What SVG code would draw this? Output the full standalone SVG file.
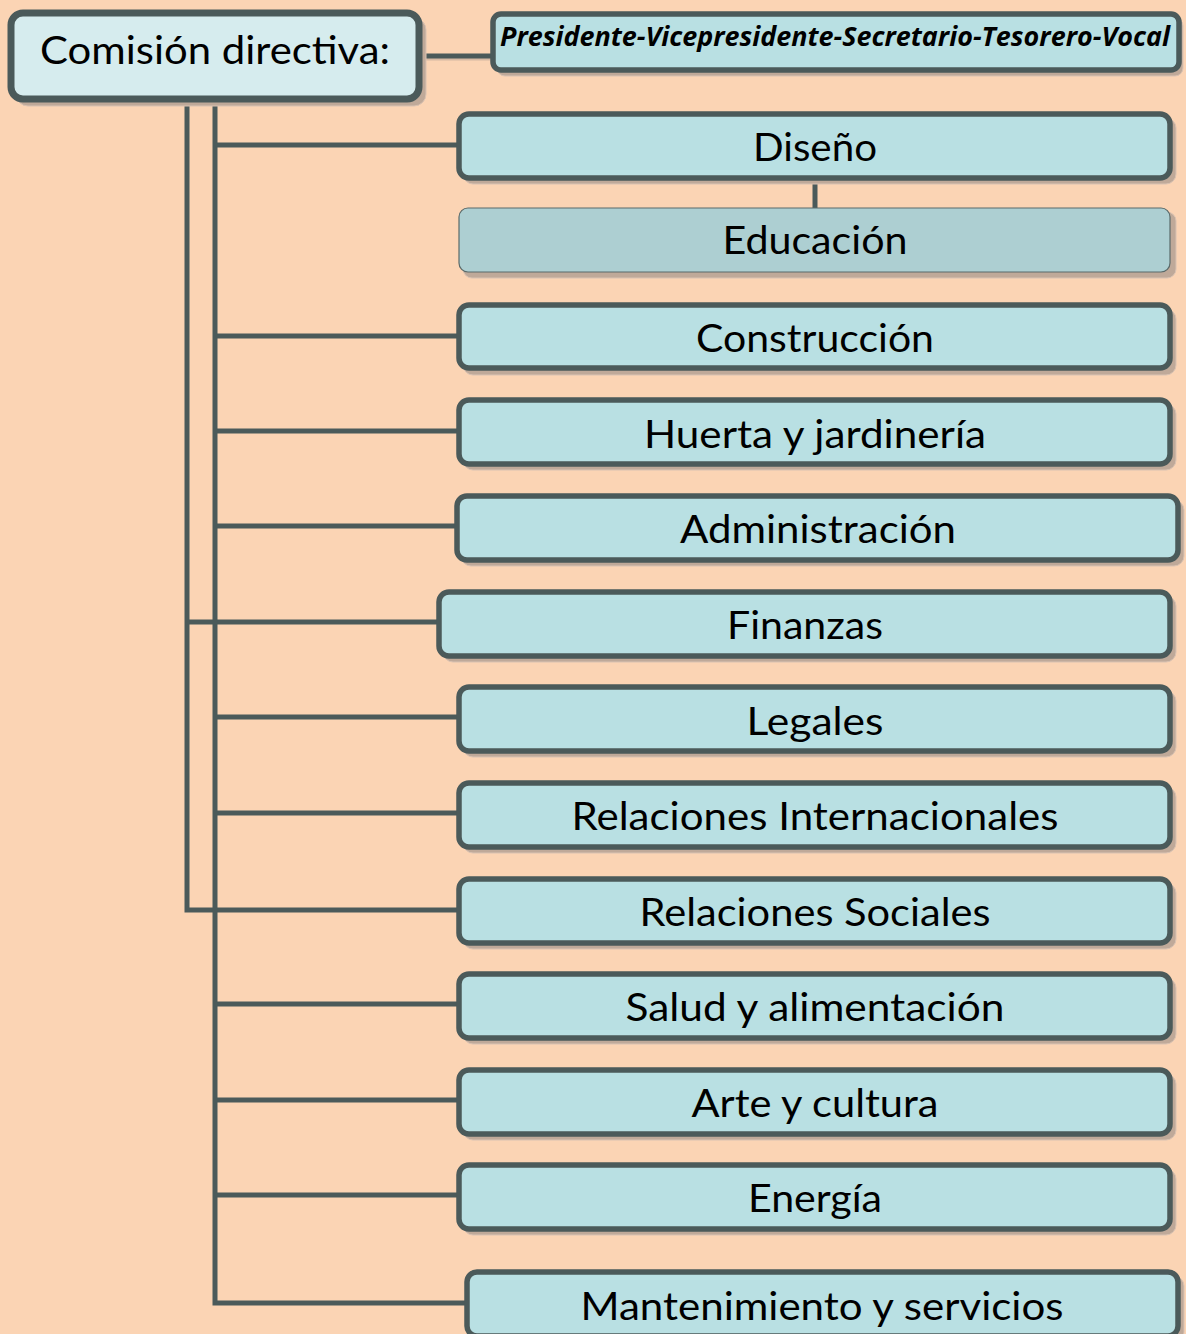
<svg xmlns="http://www.w3.org/2000/svg" width="1186" height="1334" viewBox="0 0 1186 1334">
<style>
.bg{fill:#FBD4B4}
.sh{fill:#BFA999;stroke:#D9C2B2;stroke-width:1}
.box{fill:#B9E0E3;stroke:#4B5A5A;stroke-width:5.5}
.top{fill:#D6ECEE;stroke:#4B5A5A;stroke-width:7}
.edu{fill:#ADCFD2;stroke:#5A6A6A;stroke-width:1.2}
.t{font-family:Lato,"Open Sans",sans-serif;font-size:39px;fill:#000;text-anchor:middle}
.ti{font-family:"Open Sans",Lato,sans-serif;font-size:26px;font-weight:bold;font-style:italic;fill:#000;text-anchor:middle}
.c{stroke:#4B5A5A;stroke-width:5;fill:none}
.cs{stroke:#BFA999;stroke-width:5;fill:none}
</style>
<rect class="bg" x="0" y="0" width="1186" height="1334"/>
<g id="connectors">
  <g transform="translate(2,2)" opacity="0.6">
    <path class="cs" d="M420 56H492"/>
  </g>
  <path class="c" d="M420 56H492"/>
  <path class="c" d="M815 178V208"/>
  <path class="c" d="M187 100V910H458"/>
  <path class="c" d="M187 622H438"/>
  <path class="c" d="M215 100V1303H466"/>
  <path class="c" d="M215 145H458"/>
  <path class="c" d="M215 336H458"/>
  <path class="c" d="M215 431H458"/>
  <path class="c" d="M215 526H456"/>
  <path class="c" d="M215 717H458"/>
  <path class="c" d="M215 813H458"/>
  <path class="c" d="M215 1004H458"/>
  <path class="c" d="M215 1100H458"/>
  <path class="c" d="M215 1195H458"/>
</g>
<g id="n-comision">
  <rect class="sh" x="16" y="18" width="410" height="88" rx="12"/>
  <rect class="top" x="11" y="13" width="408" height="86" rx="12"/>
  <text class="t" x="215" y="64" textLength="350" lengthAdjust="spacingAndGlyphs">Comisión directiva:</text>
</g>
<g id="n-presidente">
  <rect class="sh" x="497" y="18" width="686" height="58" rx="8"/>
  <rect class="box" x="493" y="14" width="686" height="56" rx="8"/>
  <text class="ti" x="835" y="46" textLength="670" lengthAdjust="spacingAndGlyphs">Presidente-Vicepresidente-Secretario-Tesorero-Vocal</text>
</g>
<g id="n-diseno">
  <rect class="sh" x="463" y="118" width="713" height="66" rx="10"/>
  <rect class="box" x="459" y="114" width="711" height="64" rx="10"/>
  <text class="t" x="815" y="161" textLength="124" lengthAdjust="spacingAndGlyphs">Diseño</text>
</g>
<g id="n-educacion">
  <rect class="sh" x="463" y="212" width="713" height="66" rx="9"/>
  <rect class="edu" x="459" y="208" width="711" height="64" rx="9"/>
  <text class="t" x="815" y="254" textLength="185" lengthAdjust="spacingAndGlyphs">Educación</text>
</g>
<g id="n-construccion">
  <rect class="sh" x="463" y="309" width="713" height="66" rx="10"/>
  <rect class="box" x="459" y="305" width="711" height="63" rx="10"/>
  <text class="t" x="815" y="352" textLength="238" lengthAdjust="spacingAndGlyphs">Construcción</text>
</g>
<g id="n-huerta">
  <rect class="sh" x="463" y="404" width="713" height="66" rx="10"/>
  <rect class="box" x="459" y="400" width="711" height="64" rx="10"/>
  <text class="t" x="815" y="448" textLength="342" lengthAdjust="spacingAndGlyphs">Huerta y jardinería</text>
</g>
<g id="n-administracion">
  <rect class="sh" x="461" y="500" width="723" height="66" rx="10"/>
  <rect class="box" x="457" y="496" width="721" height="64" rx="10"/>
  <text class="t" x="818" y="543" textLength="276" lengthAdjust="spacingAndGlyphs">Administración</text>
</g>
<g id="n-finanzas">
  <rect class="sh" x="443" y="596" width="733" height="66" rx="10"/>
  <rect class="box" x="439" y="592" width="731" height="64" rx="10"/>
  <text class="t" x="805" y="639" textLength="156" lengthAdjust="spacingAndGlyphs">Finanzas</text>
</g>
<g id="n-legales">
  <rect class="sh" x="463" y="691" width="713" height="66" rx="10"/>
  <rect class="box" x="459" y="687" width="711" height="64" rx="10"/>
  <text class="t" x="815" y="735" textLength="137" lengthAdjust="spacingAndGlyphs">Legales</text>
</g>
<g id="n-rel-int">
  <rect class="sh" x="463" y="787" width="713" height="66" rx="10"/>
  <rect class="box" x="459" y="783" width="711" height="64" rx="10"/>
  <text class="t" x="815" y="830" textLength="487" lengthAdjust="spacingAndGlyphs">Relaciones Internacionales</text>
</g>
<g id="n-rel-soc">
  <rect class="sh" x="463" y="883" width="713" height="66" rx="10"/>
  <rect class="box" x="459" y="879" width="711" height="64" rx="10"/>
  <text class="t" x="815" y="926" textLength="351" lengthAdjust="spacingAndGlyphs">Relaciones Sociales</text>
</g>
<g id="n-salud">
  <rect class="sh" x="463" y="978" width="713" height="66" rx="10"/>
  <rect class="box" x="459" y="974" width="711" height="64" rx="10"/>
  <text class="t" x="815" y="1021" textLength="379" lengthAdjust="spacingAndGlyphs">Salud y alimentación</text>
</g>
<g id="n-arte">
  <rect class="sh" x="463" y="1074" width="713" height="66" rx="10"/>
  <rect class="box" x="459" y="1070" width="711" height="64" rx="10"/>
  <text class="t" x="815" y="1117" textLength="247" lengthAdjust="spacingAndGlyphs">Arte y cultura</text>
</g>
<g id="n-energia">
  <rect class="sh" x="463" y="1169" width="713" height="66" rx="10"/>
  <rect class="box" x="459" y="1165" width="711" height="64" rx="10"/>
  <text class="t" x="815" y="1212" textLength="134" lengthAdjust="spacingAndGlyphs">Energía</text>
</g>
<g id="n-mantenimiento">
  <rect class="sh" x="471" y="1276" width="713" height="66" rx="10"/>
  <rect class="box" x="467" y="1272" width="711" height="64" rx="10"/>
  <text class="t" x="822" y="1320" textLength="483" lengthAdjust="spacingAndGlyphs">Mantenimiento y servicios</text>
</g>
</svg>
